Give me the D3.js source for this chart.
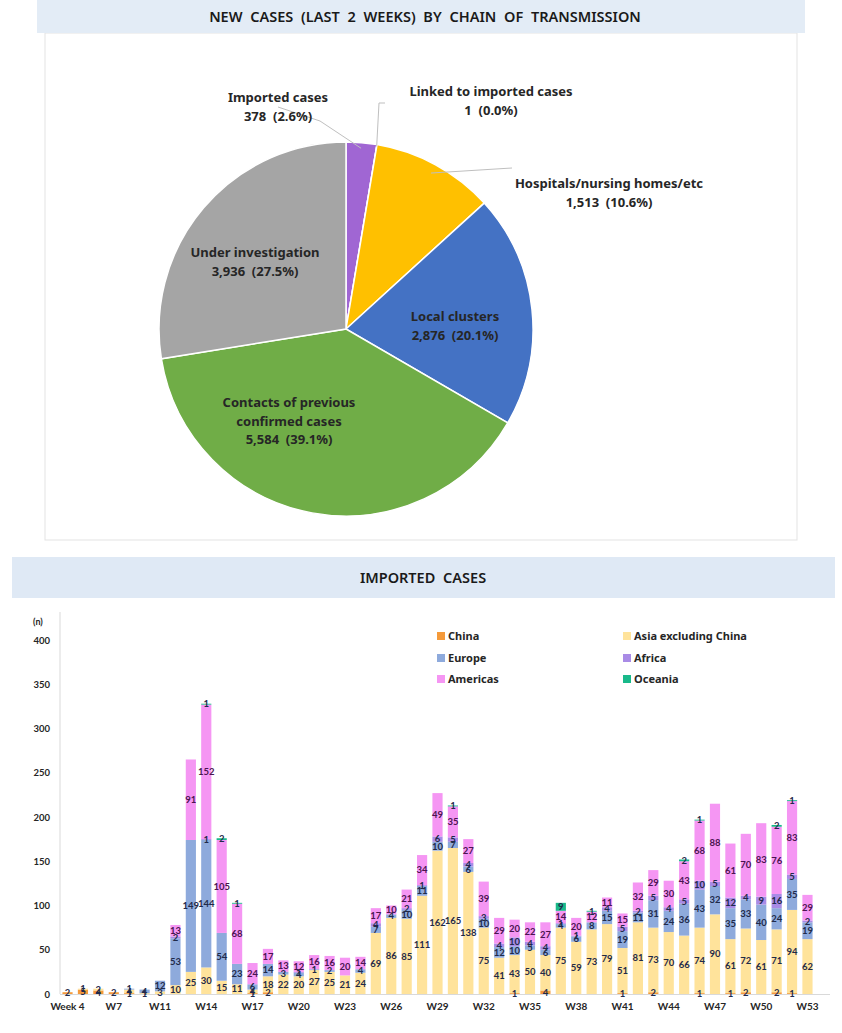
<!DOCTYPE html>
<html>
<head>
<meta charset="utf-8">
<script src="https://cdn.jsdelivr.net/npm/d3@7"></script>
<style>
  body { margin: 0; background: #fff; }
  text { font-family: Lato, "Noto Sans", sans-serif; }
  .wide { font-family: "Noto Sans", "Open Sans", sans-serif; }
</style>
</head>
<body>
<div id="chart_container"></div>
<script>
// pie data: new cases by chain of transmission
const chainNames = ["Imported cases", "Linked to imported cases", "Hospitals/nursing homes/etc",
  "Local clusters", "Contacts of previous confirmed cases", "Under investigation"];
const chainCases = [378, 1, 1513, 2876, 5584, 3936];
const chainShares = ["2.6%", "0.0%", "10.6%", "20.1%", "39.1%", "27.5%"];

// bar data: imported cases per week
const weeks = ["Week 4", "W5", "W6", "W7", "W9", "W10", "W11", "W12", "W13", "W14",
  "W15", "W16", "W17", "W18", "W19", "W20", "W21", "W22", "W23", "W24",
  "W25", "W26", "W27", "W28", "W29", "W30", "W31", "W32", "W33", "W34",
  "W35", "W36", "W37", "W38", "W39", "W40", "W41", "W42", "W43", "W44",
  "W45", "W46", "W47", "W48", "W49", "W50", "W51", "W52", "W53"];
const china = [2, 5, 4, 2, 1, 0, 0, 0, 0, 0,
  0, 0, 1, 2, 0, 0, 0, 0, 0, 0,
  0, 0, 0, 0, 0, 0, 0, 0, 0, 1,
  0, 4, 0, 0, 0, 0, 1, 0, 2, 0,
  0, 1, 0, 1, 2, 0, 2, 1, 0];
const asia = [0, 1, 2, 0, 4, 1, 3, 10, 25, 30,
  15, 11, 4, 18, 22, 20, 27, 25, 21, 24,
  69, 86, 85, 111, 162, 165, 138, 75, 41, 43,
  50, 40, 75, 59, 73, 79, 51, 81, 73, 70,
  66, 74, 90, 61, 72, 61, 71, 94, 62];
const europe = [0, 0, 0, 0, 1, 4, 12, 53, 149, 144,
  54, 23, 6, 14, 3, 4, 1, 2, 0, 4,
  7, 4, 10, 11, 10, 7, 6, 10, 12, 10,
  5, 6, 4, 6, 8, 15, 19, 11, 31, 24,
  36, 43, 32, 35, 33, 40, 24, 35, 19];
const africa = [0, 0, 0, 0, 0, 0, 0, 2, 0, 1,
  0, 0, 0, 0, 0, 1, 0, 0, 0, 0,
  4, 0, 2, 1, 6, 5, 4, 3, 4, 10,
  4, 4, 1, 1, 0, 4, 5, 2, 5, 4,
  5, 10, 5, 12, 4, 9, 16, 5, 2];
const americas = [0, 0, 0, 0, 0, 0, 0, 13, 91, 152,
  105, 68, 24, 17, 13, 12, 16, 16, 20, 14,
  17, 10, 21, 34, 49, 35, 27, 39, 29, 20,
  22, 27, 14, 20, 12, 11, 15, 32, 29, 30,
  43, 68, 88, 61, 70, 83, 76, 83, 29];
const oceania = [0, 0, 0, 0, 0, 0, 0, 0, 0, 1,
  2, 1, 0, 0, 0, 0, 0, 0, 0, 0,
  0, 0, 0, 0, 0, 1, 0, 0, 0, 0,
  0, 0, 9, 0, 1, 0, 0, 0, 0, 0,
  2, 1, 0, 0, 0, 0, 2, 1, 0];
const regions = ["China", "Asia excluding China", "Europe", "Africa", "Americas", "Oceania"];
const yTicks = [0, 50, 100, 150, 200, 250, 300, 350, 400];
const xTickWeeks = ["Week 4", "W7", "W11", "W14", "W17", "W20", "W23", "W26", "W29",
  "W32", "W35", "W38", "W41", "W44", "W47", "W50", "W53"];

//set svg parameters
const width = 842, height = 1033;
const svg = d3.select("#chart_container")
  .append("svg")
    .attr("width", width)
    .attr("height", height);

// ---------- top section ----------
svg.append("rect")
  .attr("x", 45).attr("y", 33).attr("width", 752).attr("height", 507)
  .attr("fill", "#fff").attr("stroke", "#e3e3e3");
svg.append("rect")
  .attr("x", 37).attr("y", 0).attr("width", 768).attr("height", 33)
  .attr("fill", "#e3ecf6");
svg.append("text")
  .attr("class", "wide")
  .attr("x", 425).attr("y", 22)
  .attr("text-anchor", "middle")
  .style("font-size", "14.5px").style("font-weight", 600).attr("fill", "#1a1a1a")
  .attr("word-spacing", "4px")
  .text("NEW CASES (LAST 2 WEEKS) BY CHAIN OF TRANSMISSION");

const pieCx = 346, pieCy = 329, pieR = 187;
const pieColor = d3.scaleOrdinal()
  .domain(chainNames)
  .range(["#a066d3", "#7f7f7f", "#ffc000", "#4472c4", "#70ad47", "#a5a5a5"]);

const pie = d3.pie().sort(null).value((d, i) => chainCases[i]);
const arcs = pie(chainNames);
const arc = d3.arc().innerRadius(0).outerRadius(pieR);

const pieG = svg.append("g").attr("transform", `translate(${pieCx},${pieCy})`);
pieG.selectAll("path")
  .data(arcs)
  .join("path")
  .attr("d", arc)
  .attr("fill", d => pieColor(d.data))
  .attr("stroke", "#fff")
  .attr("stroke-width", 1.5);

// label placement (layout only): inner labels sit where the original put them, outer ones get leader lines
const pieLabelLayout = [
  {lines: ["Imported cases"], x: 278, y: 102, leader: [[-26, -208], [-68, -222]], edge: 0.97},
  {lines: ["Linked to imported cases"], x: 491, y: 96, leader: [[33, -226], [39, -226]], edge: 0.99},
  {lines: ["Hospitals/nursing homes/etc"], x: 609, y: 188, leader: [[166, -161]], edge: 0.95},
  {lines: ["Local clusters"], x: 455, y: 321},
  {lines: ["Contacts of previous", "confirmed cases"], x: 289, y: 407},
  {lines: ["Under investigation"], x: 255, y: 257}
];

arcs.forEach((a, i) => {
  const lay = pieLabelLayout[i];
  if (lay.leader) {
    const mid = (a.startAngle + a.endAngle) / 2;
    const r = pieR * lay.edge;
    const pts = [[r * Math.sin(mid), -r * Math.cos(mid)]].concat(lay.leader);
    pieG.append("path")
      .attr("d", d3.line()(pts))
      .attr("fill", "none")
      .attr("stroke", "#bfbfbf")
      .attr("stroke-width", 1);
  }
  const t = svg.append("text")
    .attr("class", "wide")
    .attr("text-anchor", "middle")
    .style("font-size", "13px").style("font-weight", 700)
    .attr("fill", "#262626");
  const allLines = lay.lines.concat([d3.format(",")(chainCases[i]) + "  (" + chainShares[i] + ")"]);
  allLines.forEach((ln, k) => {
    t.append("tspan")
      .attr("x", lay.x)
      .attr("y", lay.y + k * 18.5)
      .attr("xml:space", "preserve")
      .text(ln);
  });
});

// ---------- bottom section ----------
svg.append("rect")
  .attr("x", 12).attr("y", 557).attr("width", 823).attr("height", 41)
  .attr("fill", "#dfe9f5");
svg.append("text")
  .attr("class", "wide")
  .attr("x", 423).attr("y", 583)
  .attr("text-anchor", "middle")
  .style("font-size", "14.5px").style("font-weight", 600).attr("fill", "#1a1a1a")
  .attr("word-spacing", "4px")
  .text("IMPORTED CASES");

const barColor = d3.scaleOrdinal()
  .domain(regions)
  .range(["#f59a3a", "#ffe39b", "#8eaadc", "#a98be6", "#f596f3", "#19b98a"]);

// build table for the stack
const seriesValues = [china, asia, europe, africa, americas, oceania];
const table = weeks.map((w, i) => {
  const row = {week: w};
  regions.forEach((r, k) => { row[r] = seriesValues[k][i]; });
  return row;
});
const stacked = d3.stack().keys(regions)(table);

const x = d3.scaleBand()
  .domain(weeks)
  .range([57.2, 817.8])
  .padding(0.34);
const y = d3.scaleLinear()
  .domain([0, 400])
  .range([994, 640]);

// axis lines
svg.append("line")
  .attr("x1", 60).attr("x2", 60).attr("y1", 612).attr("y2", 994)
  .attr("stroke", "#d9d9d9");
svg.append("line")
  .attr("x1", 60).attr("x2", 830).attr("y1", 994.5).attr("y2", 994.5)
  .attr("stroke", "#d9d9d9");

// y axis
const yAxis = svg.append("g")
  .attr("transform", "translate(50,0)")
  .call(d3.axisLeft(y).tickValues(yTicks).tickSize(0).tickPadding(0));
yAxis.select(".domain").remove();
yAxis.selectAll("text")
  .style("font-family", "Lato, sans-serif")
  .style("font-size", "9.5px").style("font-weight", 700).attr("fill", "#262626");
svg.append("text")
  .attr("x", 33).attr("y", 625)
  .style("font-size", "9px").style("font-weight", 700).attr("fill", "#262626")
  .text("(n)");

// x axis
const xAxis = svg.append("g")
  .attr("transform", "translate(0,994)")
  .call(d3.axisBottom(x).tickValues(xTickWeeks).tickSize(0).tickPadding(9));
xAxis.select(".domain").remove();
xAxis.selectAll("text")
  .style("font-family", "Lato, sans-serif")
  .style("font-size", "10px").style("font-weight", 700).attr("fill", "#262626");

// bars
const layers = svg.append("g")
  .selectAll("g")
  .data(stacked)
  .join("g")
  .attr("fill", d => barColor(d.key));
layers.selectAll("rect")
  .data(d => d)
  .join("rect")
  .attr("x", d => x(d.data.week))
  .attr("width", x.bandwidth())
  .attr("y", d => y(d[1]))
  .attr("height", d => y(d[0]) - y(d[1]));

// data labels
const labelG = svg.append("g");
stacked.forEach(layer => {
  layer.forEach(d => {
    const v = d[1] - d[0];
    if (v <= 0) return;
    labelG.append("text")
      .attr("x", x(d.data.week) + x.bandwidth() / 2)
      .attr("y", (y(d[0]) + y(d[1])) / 2 + 3.3)
      .attr("text-anchor", "middle")
      .style("font-size", "9.5px").style("font-weight", 700)
      .attr("fill", layer.key === "Americas" ? "#4a1450" : "#1f2a4a")
      .text(v);
  });
});

// legend
const legendPos = [[437, 636], [623, 636], [437, 658], [623, 658], [437, 679], [623, 679]];
const legend = svg.append("g")
  .selectAll("g")
  .data(regions)
  .join("g")
  .attr("transform", (d, i) => `translate(${legendPos[i][0]},${legendPos[i][1]})`);
legend.append("rect")
  .attr("x", 0).attr("y", -4).attr("width", 8).attr("height", 8)
  .attr("fill", d => barColor(d));
legend.append("text")
  .attr("class", "wide")
  .attr("x", 11).attr("y", 4)
  .style("font-size", "11px").style("font-weight", 700).attr("fill", "#262626")
  .text(d => d);
</script>
</body>
</html>
